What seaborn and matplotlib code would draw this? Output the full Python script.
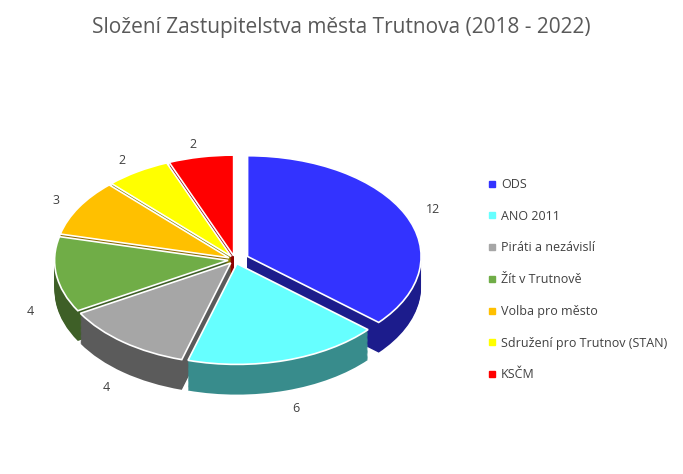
import matplotlib
matplotlib.use("Agg")
import matplotlib.pyplot as plt
import seaborn as sns
from matplotlib.lines import Line2D
import matplotlib.colors as mc

sns.set_theme(style="white")
plt.rcParams['font.family'] = ['Open Sans', 'DejaVu Sans']

parties = ["ODS", "ANO 2011", "Piráti a nezávislí", "Žít v Trutnově",
           "Volba pro město", "Sdružení pro Trutnov (STAN)", "KSČM"]
seats = [12, 6, 4, 4, 3, 2, 2]
colors = ["#3333FF", "#66FFFF", "#A6A6A6", "#70AD47", "#FFC000", "#FFFF00", "#FF0000"]
explode = [0.08, 0.04, 0.04, 0.04, 0.04, 0.04, 0.04]

fig = plt.figure(figsize=(6.83, 4.74), dpi=100)
ax = fig.add_axes([0.029, 0.08, 0.63, 0.68])

def darker(c, f=0.55):
    r, g, b = mc.to_rgb(c)
    return (r * f, g * f, b * f)

depth = 0.3
n = 25
for i in range(n, 0, -1):
    off = -depth * i / n
    ax.pie(seats, colors=[darker(c) for c in colors], explode=explode,
           startangle=90, counterclock=False, center=(0, off),
           wedgeprops=dict(linewidth=0))
texts = ax.pie(seats, colors=colors, explode=explode, startangle=90, counterclock=False,
               labels=[str(s) for s in seats], labeldistance=1.13,
               textprops=dict(fontsize=9, color="#404040"),
               wedgeprops=dict(linewidth=1.2, edgecolor="white"))[1]
# push lower labels below the side walls
for t in texts:
    x, y = t.get_position()
    if y < 0:
        t.set_position((x, y - depth - 0.05))
ax.set_aspect('auto')
ax.set_xlim(-1.24, 1.24)
ax.set_ylim(-1.75, 1.45)
ax.axis('off')

fig.suptitle("Složení Zastupitelstva města Trutnova (2018 - 2022)",
             y=0.965, fontsize=15, color="#595959")

handles = [Line2D([0], [0], marker='s', color='none', markerfacecolor=c,
                  markeredgecolor=c, markersize=5) for c in colors]
fig.legend(handles, parties, loc="center left", bbox_to_anchor=(0.695, 0.41),
           frameon=False, fontsize=9, labelspacing=1.5, handletextpad=0.2,
           handlelength=1.0, labelcolor="#404040")

fig.savefig("out.png", dpi=100)
